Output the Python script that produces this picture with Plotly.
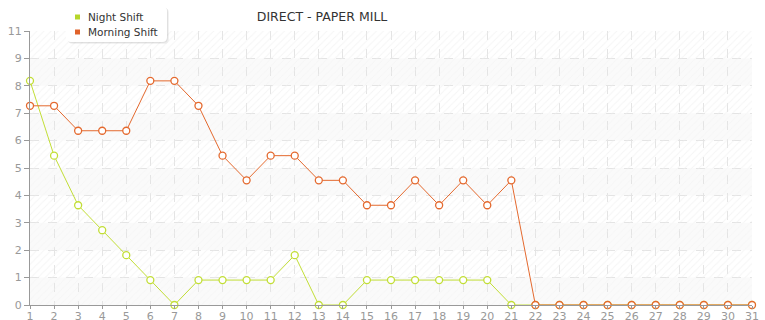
import plotly.graph_objects as go

days = list(range(1, 32))
night_shift = [8.18, 5.45, 3.64, 2.73, 1.82, 0.91, 0, 0.91, 0.91, 0.91, 0.91, 1.82, 0, 0,
               0.91, 0.91, 0.91, 0.91, 0.91, 0.91, 0, 0, 0, 0, 0, 0, 0, 0, 0, 0, 0]
morning_shift = [7.27, 7.27, 6.36, 6.36, 6.36, 8.18, 8.18, 7.27, 5.45, 4.55, 5.45, 5.45, 4.55, 4.55,
                 3.64, 3.64, 4.55, 3.64, 4.55, 3.64, 4.55, 0, 0, 0, 0, 0, 0, 0, 0, 0, 0]
series_names = ["Night Shift", "Morning Shift"]
y_tickvals = list(range(0, 11))
y_ticktext = ["0", "1", "2", "3", "4", "5", "6", "7", "8", "9", "11"]
x_ticktext = [str(d) for d in days]

GREEN = "#c2de36"
ORANGE = "#e4692e"
SWATCH = ["#b6d62a", "#e0622a"]
FONT = "DejaVu Sans"

W, H = 765, 320
ML, MR, MT, MB = 30, 13, 31, 15
PW, PH = W - ML - MR, H - MT - MB


def px(xpix):
    return (xpix - ML) / PW


def py(ypix):
    return (H - MB - ypix) / PH


fig = go.Figure()

x0, x1 = days[0], days[-1]
shapes = []
for lo in y_tickvals[:-1]:
    hi = lo + 1
    hatched = (lo % 2 == 1)
    if not hatched:
        shapes.append(dict(type="rect", xref="x", yref="y", x0=x0, x1=x1, y0=lo, y1=hi,
                           fillcolor="#fafafa", line=dict(width=0), layer="below"))
    fig.add_trace(go.Scatter(
        x=[x0, x1, x1, x0, x0], y=[lo, lo, hi, hi, lo], mode="none",
        fill="toself", hoverinfo="skip", showlegend=False,
        fillpattern=dict(shape="/", fgcolor="#ebebeb" if hatched else "#f2f2f2",
                         bgcolor="rgba(0,0,0,0)",
                         size=5, solidity=0.2, fillmode="overlay"),
        fillcolor="rgba(0,0,0,0)",
    ))

fig.add_trace(go.Scatter(
    x=days, y=night_shift, mode="lines+markers", name=series_names[0], showlegend=False,
    line=dict(color=GREEN, width=1),
    marker=dict(symbol="circle", size=7, color="white", line=dict(color=GREEN, width=1.3)),
    cliponaxis=False,
))
fig.add_trace(go.Scatter(
    x=days, y=morning_shift, mode="lines+markers", name=series_names[1], showlegend=False,
    line=dict(color=ORANGE, width=1),
    marker=dict(symbol="circle", size=7, color="white", line=dict(color=ORANGE, width=1.3)),
    cliponaxis=False,
))


def rounded_rect(l, t, r, b, rad):
    # pixel coords -> paper path with rounded corners
    X = lambda v: px(v)
    Y = lambda v: py(v)
    return (f"M {X(l + rad)},{Y(t)} L {X(r - rad)},{Y(t)} Q {X(r)},{Y(t)} {X(r)},{Y(t + rad)} "
            f"L {X(r)},{Y(b - rad)} Q {X(r)},{Y(b)} {X(r - rad)},{Y(b)} "
            f"L {X(l + rad)},{Y(b)} Q {X(l)},{Y(b)} {X(l)},{Y(b - rad)} "
            f"L {X(l)},{Y(t + rad)} Q {X(l)},{Y(t)} {X(l + rad)},{Y(t)} Z")


# legend box (drawn as a panel with soft shadow)
for off, col in [(2, "rgba(0,0,0,0.05)"), (1, "rgba(0,0,0,0.07)")]:
    shapes.append(dict(type="path", xref="paper", yref="paper",
                       path=rounded_rect(66 + off, 6 + off, 167 + off, 42 + off, 5),
                       fillcolor=col, line=dict(width=0), layer="above"))
shapes.append(dict(type="path", xref="paper", yref="paper",
                   path=rounded_rect(66, 6, 167, 42, 5),
                   fillcolor="white", line=dict(width=0), layer="above"))
annotations = []
for i, name in enumerate(series_names):
    cy = 17 + 15 * i
    shapes.append(dict(type="rect", xref="paper", yref="paper",
                       x0=px(75), x1=px(80), y0=py(cy - 2.5), y1=py(cy + 2.5),
                       fillcolor=SWATCH[i], line=dict(width=0), layer="above"))
    annotations.append(dict(text=name, xref="paper", yref="paper", x=px(86), y=py(cy),
                            xanchor="left", yanchor="middle", showarrow=False,
                            font=dict(family=FONT, size=10.5, color="#333333")))

fig.update_layout(
    width=W, height=H,
    margin=dict(l=ML, r=MR, t=MT, b=MB, autoexpand=False),
    paper_bgcolor="white", plot_bgcolor="white",
    shapes=shapes, annotations=annotations, showlegend=False,
    font=dict(family=FONT, size=11, color="#999999"),
    title=dict(text="DIRECT - PAPER MILL", xref="container", yref="container",
               x=0.421, xanchor="center", y=1 - 17 / 320, yanchor="middle",
               font=dict(family=FONT, size=12.5, color="#333333")),
    hovermode=False,
)
fig.update_xaxes(range=[x0, x1], tickvals=days, ticktext=x_ticktext, automargin=False,
                 showgrid=True, gridcolor="#e4e4e4", griddash="dash", gridwidth=1,
                 showline=True, linecolor="#999999", linewidth=1,
                 ticks="outside", ticklen=3, tickcolor="#999999", ticklabelstandoff=-2,
                 zeroline=False, fixedrange=True)
fig.update_yaxes(range=[0, 10], tickvals=y_tickvals, ticktext=y_ticktext, automargin=False,
                 showgrid=True, gridcolor="#e4e4e4", griddash="dash", gridwidth=1,
                 showline=True, linecolor="#999999", linewidth=1,
                 ticks="outside", ticklen=5, tickcolor="#999999",
                 zeroline=False, fixedrange=True)

fig.write_html("out.html")
